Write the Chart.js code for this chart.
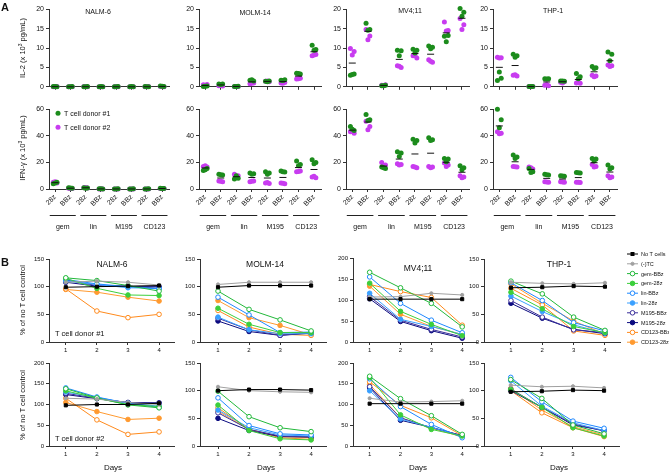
<!DOCTYPE html>
<html>
<head>
<meta charset="utf-8">
<script src="https://cdn.jsdelivr.net/npm/chart.js@4.4.1/dist/chart.umd.min.js"></script>
<style>
  body { margin: 0; width: 669px; height: 472px; position: relative; background: #fff; overflow: hidden;
         font-family: "Liberation Sans", Arial, sans-serif; color: #111; }
  canvas { position: absolute; }
  .t, .l, .v { position: absolute; white-space: nowrap; color: #111; filter: grayscale(1); }
  .t { transform: translate(-50%, -50%); }
  .l { transform: translate(0, -50%); }
  .v { transform: translate(-50%, -50%) rotate(-90deg); }
</style>
</head>
<body>

<div class="l" style="left:1px;top:7px;font-size:11px;font-weight:bold">A</div>
<div class="l" style="left:1px;top:262px;font-size:11px;font-weight:bold">B</div>

<div class="v" style="left:22px;top:48px;font-size:7.5px">IL-2 (x 10<sup style="font-size:5px">3</sup> pg/mL)</div>
<div class="v" style="left:22px;top:148px;font-size:7.5px">IFN-γ (x 10<sup style="font-size:5px">3</sup> pg/mL)</div>
<div class="v" style="left:22px;top:300px;font-size:7.5px">% of no T cell control</div>
<div class="v" style="left:22px;top:405px;font-size:7.5px">% of no T cell control</div>

<div class="t" style="left:98px;top:11px;font-size:7px">NALM-6</div>
<div class="t" style="left:255px;top:12px;font-size:7px">MOLM-14</div>
<div class="t" style="left:410px;top:10px;font-size:7px">MV4;11</div>
<div class="t" style="left:553px;top:10px;font-size:7px">THP-1</div>

<div class="t" style="left:112px;top:264px;font-size:8.5px">NALM-6</div>
<div class="t" style="left:265px;top:264px;font-size:8.5px">MOLM-14</div>
<div class="t" style="left:418px;top:268px;font-size:8.5px">MV4;11</div>
<div class="t" style="left:559px;top:264px;font-size:8.5px">THP-1</div>

<div class="l" style="left:55px;top:333px;font-size:7.5px">T cell donor #1</div>
<div class="l" style="left:55px;top:438px;font-size:7.5px">T cell donor #2</div>

<div class="t" style="left:113px;top:467px;font-size:8px">Days</div>
<div class="t" style="left:266px;top:467px;font-size:8px">Days</div>
<div class="t" style="left:418px;top:467px;font-size:8px">Days</div>
<div class="t" style="left:559px;top:467px;font-size:8px">Days</div>

<script>
// ---- Panel A : cytokines (x 10^3 pg/mL), 3 replicates per donor ----
const CATEGORIES = ['28z', 'BBz', '28z', 'BBz', '28z', 'BBz', '28z', 'BBz'];
const GROUPS = ['gem', 'lin', 'M195', 'CD123'];
const DONORS = ['T cell donor #1', 'T cell donor #2'];

const il2Nalm6D1 = [[0.1,0,0.05],[0,0.05,0],[0,0.05,0],[0,0,0.05],[0,0.05,0],[0,0,0.05],[0.05,0,0],[0.2,0.1,0.15]];
const il2Nalm6D2 = [[0,0.05,0],[0,0,0],[0.05,0,0],[0,0,0],[0,0,0],[0,0,0],[0,0.05,0],[0.1,0,0.05]];
const il2Molm14D1 = [[0.1,0.2,0.15],[0.7,0.75,0.6],[0.1,0.15,0.1],[1.7,1.5,1.8],[1.4,1.5,1.3],[1.7,1.8,1.6],[3.5,3.3,3.4],[10.7,9.6,9.4]];
const il2Molm14D2 = [[0.5,0.6,0.4],[0.3,0.2,0.35],[0.05,0.1,0.05],[0.8,1.0,0.9],[1.4,1.3,1.5],[1.0,1.1,0.9],[2.0,2.2,2.1],[8.0,8.3,8.2]];
const il2Mv411D1 = [[3.0,3.3,3.2],[16.4,14.8,14.6],[0.3,0.4,0.3],[9.4,9.3,8.0],[9.7,9.4,8.7],[10.5,10.2,9.8],[13.0,13.2,11.6],[20.2,19.2,18.2]];
const il2Mv411D2 = [[9.9,9.1,8.2],[14.8,13.1,12.1],[0.4,0.5,0.3],[5.4,5.0,5.3],[8.0,7.4,8.2],[7.0,6.3,6.6],[16.7,14.5,14.4],[17.6,16.0,14.8]];
const il2Thp1D1 = [[1.6,2.2,3.8],[8.4,8.0,7.6],[0.1,0.05,0.1],[2.1,2.1,2.0],[1.5,1.4,1.5],[3.4,2.6,2.1],[5.2,4.9,4.7],[9.0,8.4,6.7]];
const il2Thp1D2 = [[7.6,7.5,7.4],[3.0,2.8,3.1],[0.05,0.1,0],[0.4,0.3,0.6],[1.2,1.3,1.0],[1.0,0.9,1.2],[3.0,2.8,2.6],[5.6,5.4,5.2]];

const ifnNalm6D1 = [[4,5,4.5],[1,0.5,0.8],[1,0.8,0.5],[0.2,0,0.1],[0,0.1,0],[0,0.1,0],[0,0.1,0],[0.5,0.3,0.4]];
const ifnNalm6D2 = [[5,4.5,5.5],[0.5,0.3,0.4],[1,0.8,1.2],[0,0,0.1],[0,0,0],[0,0,0],[0,0,0],[0.4,0.3,0.2]];
const ifnMolm14D1 = [[14,15.5,14.5],[11,10.5,10.8],[7.5,8,10],[12,11.5,11],[13,12,11],[13.5,12.8,13],[21,18.5,17.5],[22,20,19]];
const ifnMolm14D2 = [[17,16.5,17.5],[6,5.5,5.8],[11,10,9],[5.5,6,5.8],[4.5,4.2,4.8],[4.5,4,4.3],[13,13.5,13.2],[9,8.5,9.5]];
const ifnMv411D1 = [[47,44,45],[56,52,51.5],[16.5,15.5,16],[28,27,24.5],[37.5,36.5,34.5],[38.5,37,36.5],[23,22.5,20.5],[17.5,16,14.5]];
const ifnMv411D2 = [[43,42,44.5],[51,47,44.5],[20,18,17.5],[19,18.5,18],[17,16,16.5],[17,16.5,16],[19.5,18,17],[10,9,8.5]];
const ifnThp1D1 = [[60,52,46],[25.5,24,23],[15.5,13,12.5],[11,10.5,10.8],[10,9.5,9.8],[12.5,12,12.2],[23,22.5,21],[18,16,15]];
const ifnThp1D2 = [[43,42,41.5],[17,16.5,16.8],[16.5,15,16],[5.5,5,5.2],[5.5,5,5.2],[5,4.8,5],[18.5,17,16.5],[10,9,8.5]];

// ---- Panel B : killing, % of no T cell control ----
const DAYS = [1, 2, 3, 4];
const SERIES = ['No T cells', '(-)TC', 'gem-BBz', 'gem-28z', 'lin-BBz', 'lin-28z', 'M195-BBz', 'M195-28z', 'CD123-BBz', 'CD123-28z'];

const killNalm6D1 = [[99,100,101,102],[108,110,108,103],[116,111,102,92],[115,97,85,84],[113,105,100,96],
                     [110,104,98,97],[112,102,101,97],[108,101,100,100],[96,56,44,50],[95,90,81,74]];
const killMolm14D1 = [[99,102,102,102],[104,108,108,108],[92,59,40,20],[61,32,17,17],[81,49,17,18],
                      [45,22,15,15],[43,22,12,17],[38,19,12,16],[57,27,14,12],[75,44,30,13]];
const killMv411D1 = [[102,102,102,102],[107,108,116,112],[166,129,92,36],[140,73,42,15],[155,92,52,22],
                     [116,54,37,18],[108,52,30,12],[103,49,27,9],[137,120,106,40],[133,66,37,18]];
const killThp1D1 = [[98,99,101,100],[108,106,105,107],[110,87,45,21],[90,60,28,17],[107,75,35,20],
                    [83,55,31,16],[75,45,22,17],[70,43,23,15],[97,67,20,12],[105,70,38,14]];
const killNalm6D2 = [[98,100,100,103],[115,113,105,100],[138,116,99,92],[133,115,100,95],[140,118,103,93],
                     [130,117,103,96],[127,115,104,103],[124,114,105,104],[115,63,28,34],[105,83,64,67]];
const killMolm14D2 = [[100,102,102,101],[107,100,98,97],[99,53,33,26],[74,28,13,11],[87,37,22,20],
                      [65,33,20,18],[60,30,18,17],[50,28,17,16],[69,30,15,12],[63,30,17,15]];
const killMv411D2 = [[102,102,102,102],[115,106,107,109],[168,114,73,28],[165,75,40,24],[162,95,52,20],
                     [133,65,45,23],[143,68,44,25],[140,62,45,25],[155,98,68,25],[148,68,43,22]];
const killThp1D2 = [[98,99,101,100],[110,107,108,105],[120,86,38,22],[102,70,33,18],[124,80,45,32],
                    [118,72,42,28],[103,70,40,27],[100,70,38,28],[100,60,33,17],[104,65,35,20]];

// styles
const DONOR_COLORS = ['#1c8c1c', '#c83cf0'];
const SERIES_COLORS = ['#000000', '#a0a0a0', '#22b83a', '#3ccf3c', '#1e88ff', '#3aa0ff', '#3b2f9a', '#0b0b80', '#ff8a1c', '#ff9a30'];
const SERIES_OPEN = [false, false, true, false, true, false, true, false, true, false];
const JITTER = [-0.12, 0.12, 0];
const FONT = 'Liberation Sans, Arial, sans-serif';
const AXIS = '#333';
const TEXT = '#111';

function makeCanvas(x0, y0, x1, y1, W, H, PT, PR) {
  const c = document.createElement('canvas');
  c.width = x1 - x0 + W + PR;
  c.height = y1 - y0 + PT + H;
  c.style.left = (x0 - W) + 'px';
  c.style.top = (y0 - PT) + 'px';
  document.body.appendChild(c);
  return c;
}

// group underline + names below rotated tick labels
const groupPlugin = {
  id: 'groups',
  afterDraw(chart, args, o) {
    if (!o.show) return;
    const { ctx, chartArea } = chart;
    const x = chart.scales.x;
    const y = Math.round(chartArea.bottom + 26) + 0.5;
    ctx.save();
    ctx.strokeStyle = '#222';
    ctx.fillStyle = TEXT;
    ctx.lineWidth = 1;
    ctx.font = '7px ' + FONT;
    ctx.textAlign = 'center';
    ctx.textBaseline = 'middle';
    GROUPS.forEach((g, i) => {
      const a = x.getPixelForValue(2 * i - 0.35), b = x.getPixelForValue(2 * i + 1.35);
      ctx.beginPath(); ctx.moveTo(a, y); ctx.lineTo(b, y); ctx.stroke();
      ctx.fillText(g, (a + b) / 2, y + 11.5);
    });
    ctx.restore();
  }
};

// donor legend inside the first IFN panel
const donorLegend = {
  id: 'donorLegend',
  afterDraw(chart, args, o) {
    if (!o.show) return;
    const { ctx, chartArea } = chart;
    ctx.save();
    ctx.font = '7px ' + FONT;
    ctx.textBaseline = 'middle';
    DONORS.forEach((d, k) => {
      const y = chartArea.top + 4 + k * 14, x = chartArea.left + 9;
      ctx.fillStyle = DONOR_COLORS[k];
      ctx.beginPath(); ctx.arc(x, y, 2.5, 0, Math.PI * 2); ctx.fill();
      ctx.fillStyle = TEXT;
      ctx.fillText(d, x + 6, y + 0.5);
    });
    ctx.restore();
  }
};

// series legend at the right of the THP-1 killing panel
const seriesLegend = {
  id: 'seriesLegend',
  afterDraw(chart, args, o) {
    if (!o.show) return;
    const { ctx, chartArea } = chart;
    ctx.save();
    ctx.font = '5.5px ' + FONT;
    ctx.textBaseline = 'middle';
    chart.data.datasets.forEach((ds, k) => {
      const y = chartArea.top - 5 + k * 9.8, x = chartArea.right + 7;
      ctx.strokeStyle = ds.borderColor;
      ctx.lineWidth = 1;
      ctx.beginPath(); ctx.moveTo(x, y); ctx.lineTo(x + 11, y); ctx.stroke();
      ctx.fillStyle = ds.backgroundColor;
      if (ds.pointStyle === 'rect') {
        ctx.fillRect(x + 3.5, y - 2, 4, 4);
      } else {
        ctx.beginPath(); ctx.arc(x + 5.5, y, ds.pointRadius, 0, Math.PI * 2); ctx.fill(); ctx.stroke();
      }
      ctx.fillStyle = TEXT;
      ctx.fillText(ds.label, x + 14, y + 0.5);
    });
    ctx.restore();
  }
};

function stripDatasets(d1, d2) {
  const means = d1.map((v, i) => {
    const all = v.concat(d2[i]);
    return { x: i, y: all.reduce((s, a) => s + a, 0) / all.length };
  });
  const ds = [{
    label: 'mean', data: means, pointStyle: 'line', pointRadius: 3.5, pointBorderWidth: 1,
    borderColor: '#111', backgroundColor: '#111', clip: false
  }];
  [d1, d2].forEach((d, k) => {
    const pts = [];
    d.forEach((vals, i) => vals.forEach((v, j) => pts.push({ x: i + JITTER[j], y: v })));
    ds.push({ label: DONORS[k], data: pts, pointRadius: 2.5, pointBorderWidth: 0,
              backgroundColor: DONOR_COLORS[k], borderColor: DONOR_COLORS[k], clip: false });
  });
  return ds;
}

function stripChart(rect, d1, d2, ymax, step, labels, opts) {
  const W = 22, H = labels ? 46 : 6, PT = 6, PR = 4;
  const canvas = makeCanvas(rect[0], rect[1], rect[2], rect[3], W, H, PT, PR);
  return new Chart(canvas, {
    type: 'scatter',
    data: { datasets: stripDatasets(d1, d2) },
    plugins: [groupPlugin, donorLegend],
    options: {
      responsive: false, animation: false, devicePixelRatio: 1,
      layout: { padding: { top: PT, right: PR, left: 0, bottom: 0 } },
      plugins: {
        legend: { display: false }, tooltip: { enabled: false },
        groups: { show: labels }, donorLegend: { show: !!(opts && opts.donorLegend) }
      },
      scales: {
        x: {
          type: 'linear', min: -0.4, max: 7.45,
          afterBuildTicks: s => { s.ticks = CATEGORIES.map((c, i) => ({ value: i })); },
          afterFit: s => { s.height = H; },
          grid: { drawOnChartArea: false, tickLength: 3, color: AXIS },
          border: { color: AXIS },
          ticks: {
            display: labels, autoSkip: false, minRotation: 45, maxRotation: 45, padding: 1,
            color: TEXT, font: { family: FONT, size: 7 },
            callback: v => CATEGORIES[Math.round(v)]
          }
        },
        y: {
          min: 0, max: ymax,
          afterFit: s => { s.width = W; },
          grid: { drawOnChartArea: false, tickLength: 3, color: AXIS },
          border: { color: AXIS },
          ticks: { stepSize: step, padding: 2, color: TEXT, font: { family: FONT, size: 7 } }
        }
      }
    }
  });
}

function killDatasets(rows) {
  return SERIES.map((name, k) => ({
    label: name,
    data: rows[k].map((v, i) => ({ x: DAYS[i], y: v })),
    showLine: true,
    borderColor: SERIES_COLORS[k],
    backgroundColor: SERIES_OPEN[k] ? '#ffffff' : SERIES_COLORS[k],
    borderWidth: 1,
    pointStyle: k === 0 ? 'rect' : 'circle',
    pointRadius: k === 0 ? 2.2 : (k === 1 ? 1.6 : 2.3),
    pointBorderWidth: 1,
    clip: false
  }));
}

function killChart(rect, rows, ymax, xmin, legend) {
  const W = 22, H = 14, PT = legend ? 12 : 6, PR = legend ? 49 : 4;
  const canvas = makeCanvas(rect[0], rect[1], rect[2], rect[3], W, H, PT, PR);
  return new Chart(canvas, {
    type: 'scatter',
    data: { datasets: killDatasets(rows) },
    plugins: [seriesLegend],
    options: {
      responsive: false, animation: false, devicePixelRatio: 1,
      layout: { padding: { top: PT, right: PR, left: 0, bottom: 0 } },
      plugins: { legend: { display: false }, tooltip: { enabled: false }, seriesLegend: { show: legend } },
      scales: {
        x: {
          type: 'linear', min: xmin, max: 4.48,
          afterBuildTicks: s => { s.ticks = DAYS.map(d => ({ value: d })); },
          afterFit: s => { s.height = H; },
          grid: { drawOnChartArea: false, tickLength: 3, color: AXIS },
          border: { color: AXIS },
          ticks: { padding: 2, color: TEXT, font: { family: FONT, size: 6 } }
        },
        y: {
          min: 0, max: ymax,
          afterFit: s => { s.width = W; },
          grid: { drawOnChartArea: false, tickLength: 3, color: AXIS },
          border: { color: AXIS },
          ticks: { stepSize: 50, padding: 2, color: TEXT, font: { family: FONT, size: 6 } }
        }
      }
    }
  });
}

// Panel A
stripChart([49, 9, 170, 87], il2Nalm6D1, il2Nalm6D2, 20, 5, false);
stripChart([199, 9, 322, 87], il2Molm14D1, il2Molm14D2, 20, 5, false);
stripChart([346, 9, 470, 87], il2Mv411D1, il2Mv411D2, 20, 5, false);
stripChart([493, 9, 618, 87], il2Thp1D1, il2Thp1D2, 20, 5, false);
stripChart([49, 109, 170, 189], ifnNalm6D1, ifnNalm6D2, 60, 20, true, { donorLegend: true });
stripChart([199, 109, 322, 189], ifnMolm14D1, ifnMolm14D2, 60, 20, true);
stripChart([346, 109, 470, 189], ifnMv411D1, ifnMv411D2, 60, 20, true);
stripChart([493, 109, 618, 189], ifnThp1D1, ifnThp1D2, 60, 20, true);

// Panel B
killChart([49, 259, 175, 342], killNalm6D1, 150, 0.46, false);
killChart([200, 259, 327, 342], killMolm14D1, 150, 0.42, false);
killChart([353, 258, 478, 342], killMv411D1, 200, 0.46, false);
killChart([484, 259, 620, 342], killThp1D1, 150, 0.14, true);
killChart([49, 363, 175, 446], killNalm6D2, 200, 0.46, false);
killChart([200, 363, 327, 446], killMolm14D2, 150, 0.42, false);
killChart([353, 363, 478, 446], killMv411D2, 200, 0.46, false);
killChart([484, 363, 620, 446], killThp1D2, 150, 0.14, false);
</script>
</body>
</html>
